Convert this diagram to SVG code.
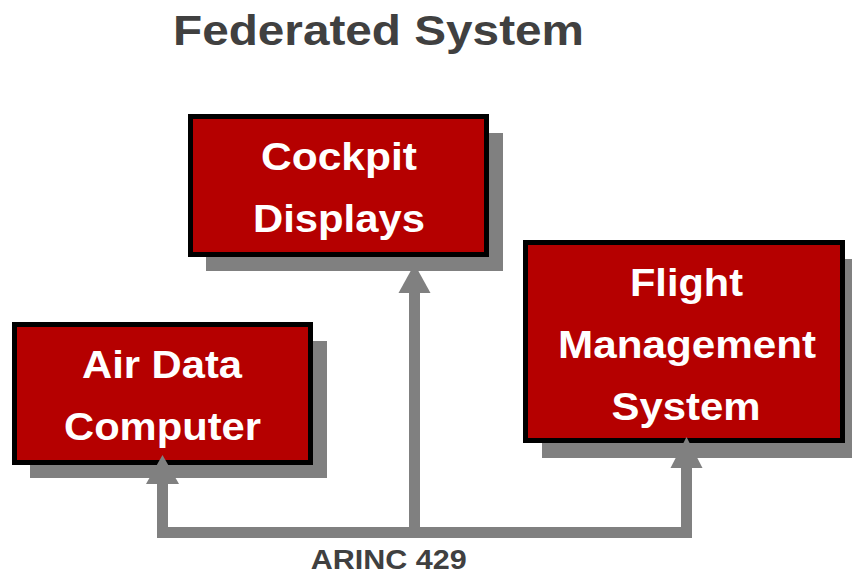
<svg xmlns="http://www.w3.org/2000/svg" width="852" height="574" viewBox="0 0 852 574">
<style>
.shadow{fill:#808080}
.box{fill:#b50000;stroke:#000;stroke-width:5}
.lbl{font-family:"Liberation Sans",Arial,sans-serif;font-weight:bold;font-size:39px;fill:#fff;text-anchor:middle}
.dark{font-family:"Liberation Sans",Arial,sans-serif;font-weight:bold;fill:#404040;text-anchor:middle}
.bus{fill:none;stroke:#808080;stroke-width:11;stroke-linejoin:miter}
.head{fill:#808080}
</style>
<rect width="852" height="574" fill="#fff"/>
<text class="dark" x="378.5" y="45" font-size="42" textLength="411" lengthAdjust="spacingAndGlyphs">Federated System</text>
<g id="cockpit">
<rect class="shadow" x="206" y="133" width="297" height="138"/>
<rect class="box" x="190.5" y="116.5" width="296" height="138"/>
<text class="lbl" x="339" y="169.5" textLength="156" lengthAdjust="spacingAndGlyphs">Cockpit</text>
<text class="lbl" x="339" y="232" textLength="172" lengthAdjust="spacingAndGlyphs">Displays</text>
</g>
<g id="adc">
<rect class="shadow" x="30" y="341" width="297" height="137"/>
<rect class="box" x="14.5" y="324.5" width="296" height="138"/>
<text class="lbl" x="162" y="378.3" textLength="160" lengthAdjust="spacingAndGlyphs">Air Data</text>
<text class="lbl" x="162.5" y="440" textLength="197" lengthAdjust="spacingAndGlyphs">Computer</text>
</g>
<g id="fms">
<rect class="shadow" x="542" y="259" width="320" height="199"/>
<rect class="box" x="525.5" y="242.5" width="317" height="198"/>
<text class="lbl" x="686.5" y="296" textLength="113" lengthAdjust="spacingAndGlyphs">Flight</text>
<text class="lbl" x="687" y="357.7" textLength="258" lengthAdjust="spacingAndGlyphs">Management</text>
<text class="lbl" x="686" y="419.5" textLength="149" lengthAdjust="spacingAndGlyphs">System</text>
</g>
<g id="connectors">
<polyline class="bus" points="162.5,484 162.5,532.5 686.5,532.5 686.5,468"/>
<line class="bus" x1="414.5" y1="293" x2="414.5" y2="532.5"/>
<polygon class="head" points="162.5,455 179,484 146,484"/>
<polygon class="head" points="414.5,264 430.5,293 398.5,293"/>
<polygon class="head" points="686.5,437 702.5,468 670.5,468"/>
</g>
<text class="dark" x="388.7" y="569.3" font-size="27" textLength="156" lengthAdjust="spacingAndGlyphs">ARINC 429</text>
</svg>
